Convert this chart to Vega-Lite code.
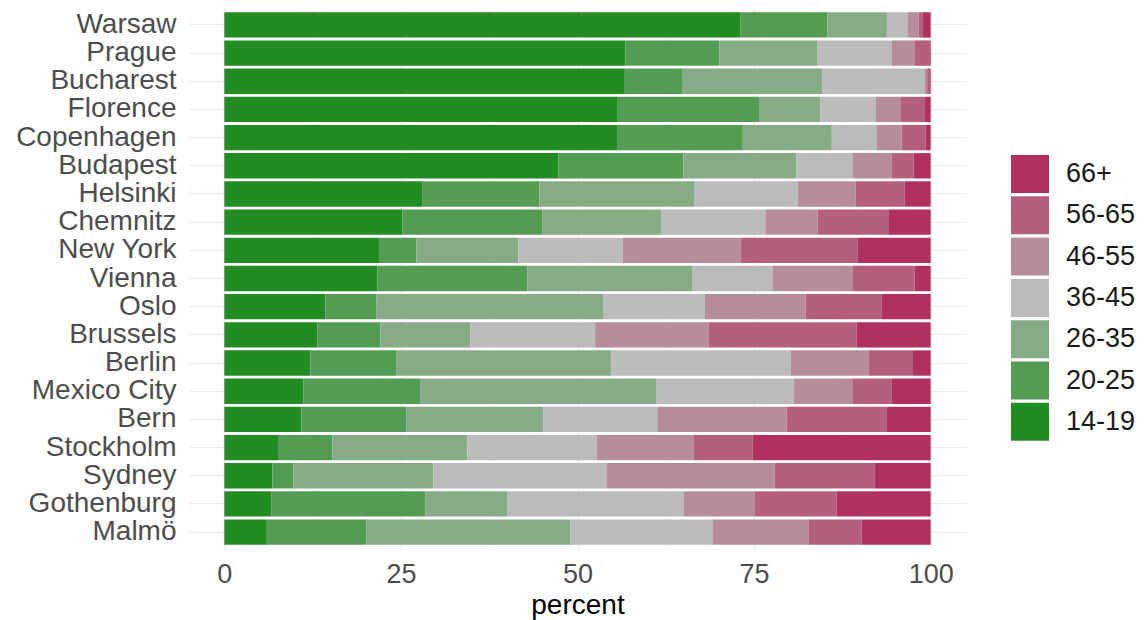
{
  "$schema": "https://vega.github.io/schema/vega-lite/v6.json",
  "autosize": {"type": "none"},
  "padding": {"left": 189, "top": 8, "right": 179, "bottom": 71},
  "width": 777,
  "height": 541,
  "background": "white",
  "config": {
    "view": {"stroke": null},
    "font": "Liberation Sans"
  },
  "data": {
    "values": [
      {"city": "Warsaw", "age": "14-19", "percent": 73.1},
      {"city": "Warsaw", "age": "20-25", "percent": 12.3},
      {"city": "Warsaw", "age": "26-35", "percent": 8.4},
      {"city": "Warsaw", "age": "36-45", "percent": 2.9},
      {"city": "Warsaw", "age": "46-55", "percent": 1.6},
      {"city": "Warsaw", "age": "56-65", "percent": 0.6},
      {"city": "Warsaw", "age": "66+", "percent": 1.1},
      {"city": "Prague", "age": "14-19", "percent": 56.8},
      {"city": "Prague", "age": "20-25", "percent": 13.3},
      {"city": "Prague", "age": "26-35", "percent": 13.9},
      {"city": "Prague", "age": "36-45", "percent": 10.5},
      {"city": "Prague", "age": "46-55", "percent": 3.2},
      {"city": "Prague", "age": "56-65", "percent": 2.1},
      {"city": "Prague", "age": "66+", "percent": 0.2},
      {"city": "Bucharest", "age": "14-19", "percent": 56.7},
      {"city": "Bucharest", "age": "20-25", "percent": 8.2},
      {"city": "Bucharest", "age": "26-35", "percent": 19.8},
      {"city": "Bucharest", "age": "36-45", "percent": 14.5},
      {"city": "Bucharest", "age": "46-55", "percent": 0.3},
      {"city": "Bucharest", "age": "56-65", "percent": 0.3},
      {"city": "Bucharest", "age": "66+", "percent": 0.2},
      {"city": "Florence", "age": "14-19", "percent": 55.7},
      {"city": "Florence", "age": "20-25", "percent": 20.1},
      {"city": "Florence", "age": "26-35", "percent": 8.6},
      {"city": "Florence", "age": "36-45", "percent": 7.8},
      {"city": "Florence", "age": "46-55", "percent": 3.6},
      {"city": "Florence", "age": "56-65", "percent": 3.4},
      {"city": "Florence", "age": "66+", "percent": 0.8},
      {"city": "Copenhagen", "age": "14-19", "percent": 55.7},
      {"city": "Copenhagen", "age": "20-25", "percent": 17.7},
      {"city": "Copenhagen", "age": "26-35", "percent": 12.6},
      {"city": "Copenhagen", "age": "36-45", "percent": 6.4},
      {"city": "Copenhagen", "age": "46-55", "percent": 3.5},
      {"city": "Copenhagen", "age": "56-65", "percent": 3.4},
      {"city": "Copenhagen", "age": "66+", "percent": 0.7},
      {"city": "Budapest", "age": "14-19", "percent": 47.3},
      {"city": "Budapest", "age": "20-25", "percent": 17.7},
      {"city": "Budapest", "age": "26-35", "percent": 16.0},
      {"city": "Budapest", "age": "36-45", "percent": 8.0},
      {"city": "Budapest", "age": "46-55", "percent": 5.5},
      {"city": "Budapest", "age": "56-65", "percent": 3.1},
      {"city": "Budapest", "age": "66+", "percent": 2.4},
      {"city": "Helsinki", "age": "14-19", "percent": 28.0},
      {"city": "Helsinki", "age": "20-25", "percent": 16.6},
      {"city": "Helsinki", "age": "26-35", "percent": 22.0},
      {"city": "Helsinki", "age": "36-45", "percent": 14.6},
      {"city": "Helsinki", "age": "46-55", "percent": 8.2},
      {"city": "Helsinki", "age": "56-65", "percent": 6.9},
      {"city": "Helsinki", "age": "66+", "percent": 3.7},
      {"city": "Chemnitz", "age": "14-19", "percent": 25.2},
      {"city": "Chemnitz", "age": "20-25", "percent": 19.8},
      {"city": "Chemnitz", "age": "26-35", "percent": 16.9},
      {"city": "Chemnitz", "age": "36-45", "percent": 14.7},
      {"city": "Chemnitz", "age": "46-55", "percent": 7.4},
      {"city": "Chemnitz", "age": "56-65", "percent": 10.1},
      {"city": "Chemnitz", "age": "66+", "percent": 5.9},
      {"city": "New York", "age": "14-19", "percent": 22.0},
      {"city": "New York", "age": "20-25", "percent": 5.2},
      {"city": "New York", "age": "26-35", "percent": 14.4},
      {"city": "New York", "age": "36-45", "percent": 14.8},
      {"city": "New York", "age": "46-55", "percent": 16.7},
      {"city": "New York", "age": "56-65", "percent": 16.6},
      {"city": "New York", "age": "66+", "percent": 10.3},
      {"city": "Vienna", "age": "14-19", "percent": 21.7},
      {"city": "Vienna", "age": "20-25", "percent": 21.2},
      {"city": "Vienna", "age": "26-35", "percent": 23.4},
      {"city": "Vienna", "age": "36-45", "percent": 11.3},
      {"city": "Vienna", "age": "46-55", "percent": 11.4},
      {"city": "Vienna", "age": "56-65", "percent": 8.7},
      {"city": "Vienna", "age": "66+", "percent": 2.3},
      {"city": "Oslo", "age": "14-19", "percent": 14.3},
      {"city": "Oslo", "age": "20-25", "percent": 7.2},
      {"city": "Oslo", "age": "26-35", "percent": 32.2},
      {"city": "Oslo", "age": "36-45", "percent": 14.3},
      {"city": "Oslo", "age": "46-55", "percent": 14.3},
      {"city": "Oslo", "age": "56-65", "percent": 10.8},
      {"city": "Oslo", "age": "66+", "percent": 6.9},
      {"city": "Brussels", "age": "14-19", "percent": 13.2},
      {"city": "Brussels", "age": "20-25", "percent": 8.9},
      {"city": "Brussels", "age": "26-35", "percent": 12.7},
      {"city": "Brussels", "age": "36-45", "percent": 17.7},
      {"city": "Brussels", "age": "46-55", "percent": 16.1},
      {"city": "Brussels", "age": "56-65", "percent": 20.9},
      {"city": "Brussels", "age": "66+", "percent": 10.5},
      {"city": "Berlin", "age": "14-19", "percent": 12.2},
      {"city": "Berlin", "age": "20-25", "percent": 12.2},
      {"city": "Berlin", "age": "26-35", "percent": 30.4},
      {"city": "Berlin", "age": "36-45", "percent": 25.4},
      {"city": "Berlin", "age": "46-55", "percent": 11.0},
      {"city": "Berlin", "age": "56-65", "percent": 6.3},
      {"city": "Berlin", "age": "66+", "percent": 2.5},
      {"city": "Mexico City", "age": "14-19", "percent": 11.2},
      {"city": "Mexico City", "age": "20-25", "percent": 16.6},
      {"city": "Mexico City", "age": "26-35", "percent": 33.4},
      {"city": "Mexico City", "age": "36-45", "percent": 19.4},
      {"city": "Mexico City", "age": "46-55", "percent": 8.4},
      {"city": "Mexico City", "age": "56-65", "percent": 5.5},
      {"city": "Mexico City", "age": "66+", "percent": 5.5},
      {"city": "Bern", "age": "14-19", "percent": 10.9},
      {"city": "Bern", "age": "20-25", "percent": 14.9},
      {"city": "Bern", "age": "26-35", "percent": 19.4},
      {"city": "Bern", "age": "36-45", "percent": 16.1},
      {"city": "Bern", "age": "46-55", "percent": 18.3},
      {"city": "Bern", "age": "56-65", "percent": 14.2},
      {"city": "Bern", "age": "66+", "percent": 6.2},
      {"city": "Stockholm", "age": "14-19", "percent": 7.6},
      {"city": "Stockholm", "age": "20-25", "percent": 7.7},
      {"city": "Stockholm", "age": "26-35", "percent": 19.1},
      {"city": "Stockholm", "age": "36-45", "percent": 18.3},
      {"city": "Stockholm", "age": "46-55", "percent": 13.7},
      {"city": "Stockholm", "age": "56-65", "percent": 8.4},
      {"city": "Stockholm", "age": "66+", "percent": 25.2},
      {"city": "Sydney", "age": "14-19", "percent": 6.8},
      {"city": "Sydney", "age": "20-25", "percent": 3.0},
      {"city": "Sydney", "age": "26-35", "percent": 19.8},
      {"city": "Sydney", "age": "36-45", "percent": 24.5},
      {"city": "Sydney", "age": "46-55", "percent": 23.8},
      {"city": "Sydney", "age": "56-65", "percent": 14.2},
      {"city": "Sydney", "age": "66+", "percent": 7.9},
      {"city": "Gothenburg", "age": "14-19", "percent": 6.7},
      {"city": "Gothenburg", "age": "20-25", "percent": 21.8},
      {"city": "Gothenburg", "age": "26-35", "percent": 11.6},
      {"city": "Gothenburg", "age": "36-45", "percent": 24.9},
      {"city": "Gothenburg", "age": "46-55", "percent": 10.1},
      {"city": "Gothenburg", "age": "56-65", "percent": 11.6},
      {"city": "Gothenburg", "age": "66+", "percent": 13.3},
      {"city": "Malmö", "age": "14-19", "percent": 5.9},
      {"city": "Malmö", "age": "20-25", "percent": 14.2},
      {"city": "Malmö", "age": "26-35", "percent": 28.9},
      {"city": "Malmö", "age": "36-45", "percent": 20.1},
      {"city": "Malmö", "age": "46-55", "percent": 13.6},
      {"city": "Malmö", "age": "56-65", "percent": 7.5},
      {"city": "Malmö", "age": "66+", "percent": 9.8}
    ]
  },
  "mark": {"type": "bar", "strokeWidth": 0},
  "encoding": {
    "y": {
      "field": "city",
      "type": "nominal",
      "sort": ["Warsaw", "Prague", "Bucharest", "Florence", "Copenhagen", "Budapest", "Helsinki", "Chemnitz", "New York", "Vienna", "Oslo", "Brussels", "Berlin", "Mexico City", "Bern", "Stockholm", "Sydney", "Gothenburg", "Malmö"],
      "scale": {"paddingInner": 0.1, "paddingOuter": 0.15},
      "axis": {
        "title": null,
        "domain": false,
        "ticks": false,
        "grid": true,
        "bandPosition": 0.5,
        "gridColor": "#EBEBEB",
        "gridWidth": 1.2,
        "labelFontSize": 28,
        "labelColor": "#4D4D4D",
        "labelPadding": 13,
        "labelFont": "Liberation Sans"
      }
    },
    "x": {
      "field": "percent",
      "type": "quantitative",
      "stack": "zero",
      "scale": {"domain": [-5, 105], "nice": false, "zero": false},
      "axis": {
        "title": "percent",
        "values": [0, 12.5, 25, 37.5, 50, 62.5, 75, 87.5, 100],
        "labelExpr": "datum.value % 25 === 0 ? datum.label : ''",
        "domain": false,
        "ticks": false,
        "grid": true,
        "gridColor": "#EBEBEB",
        "gridWidth": {"condition": {"test": "datum.value % 25 !== 0", "value": 0.6}, "value": 1.2},
        "labelFontSize": 27,
        "labelColor": "#4D4D4D",
        "labelPadding": 12,
        "labelFont": "Liberation Sans",
        "labelFlush": false,
        "labelOverlap": false,
        "titleFontSize": 28,
        "titleFontWeight": "normal",
        "titleColor": "#000000",
        "titleFont": "Liberation Sans",
        "titleBaseline": "alphabetic",
        "titleY": 64
      }
    },
    "order": {"field": "age", "sort": "ascending"},
    "color": {
      "field": "age",
      "type": "nominal",
      "scale": {
        "domain": ["66+", "56-65", "46-55", "36-45", "26-35", "20-25", "14-19"],
        "range": ["#B03060", "#B55F7F", "#B78C9C", "#BBBBBB", "#87AB87", "#549B54", "#228B22"]
      },
      "legend": {
        "title": null,
        "orient": "none",
        "legendX": 822,
        "legendY": 147,
        "padding": 0,
        "symbolType": "square",
        "symbolSize": 1444,
        "symbolStrokeWidth": 0,
        "symbolOpacity": 1,
        "labelFontSize": 27,
        "labelColor": "#1A1A1A",
        "labelFont": "Liberation Sans",
        "labelOffset": 17,
        "rowPadding": 3.3
      }
    }
  }
}
